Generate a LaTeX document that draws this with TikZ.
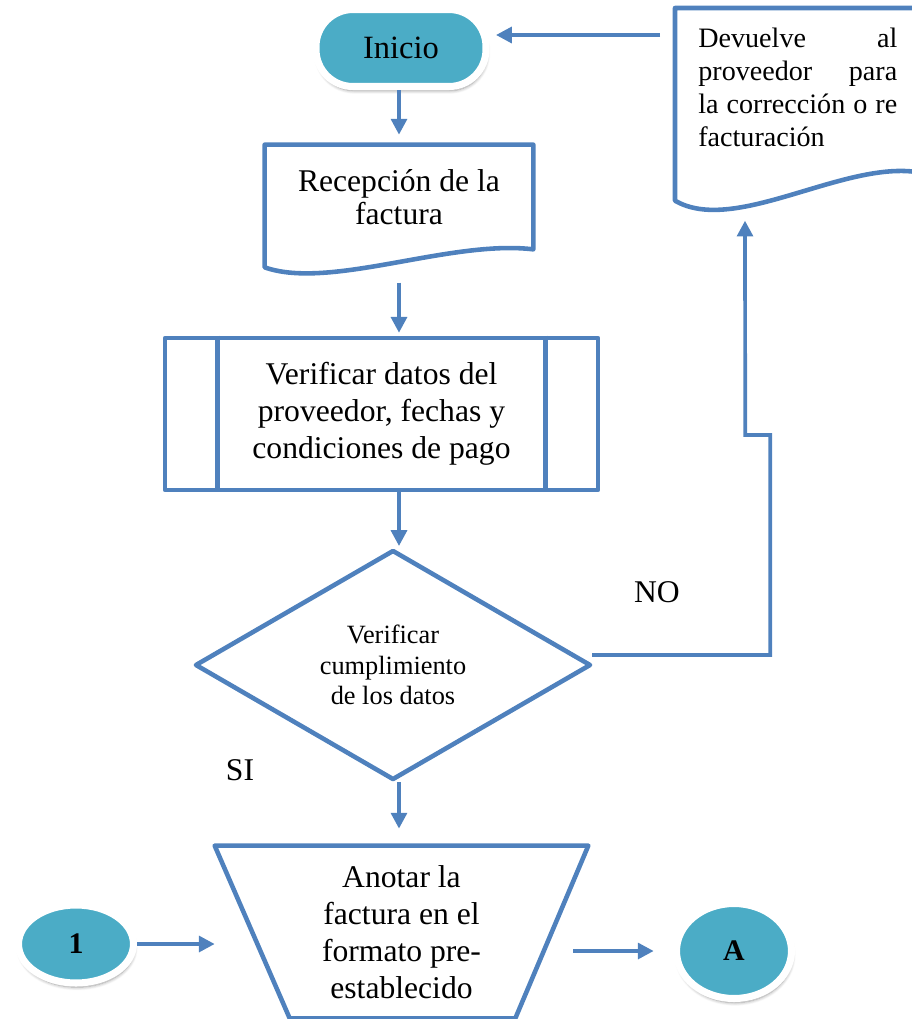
\documentclass[tikz,border=0pt]{standalone}
\usepackage{fontspec}
\setmainfont{Liberation Serif}
\usetikzlibrary{arrows.meta,shapes.geometric,shadows.blur}
\definecolor{azul}{HTML}{4F81BD}
\definecolor{turq}{HTML}{4BACC6}

\begin{document}
\begin{tikzpicture}[x=0.02cm, y=-0.02cm,
    forma/.style={draw=azul, line width=2.6pt, line join=round},
    caja/.style={inner sep=0pt, align=center, font=\fontsize{18}{21}\selectfont},
    terminal/.style={fill=turq, draw=white, line width=4pt, inner sep=0pt,
      blur shadow={shadow xshift=0.6pt, shadow yshift=-2.4pt, shadow blur steps=6, shadow opacity=40}},
    flecha/.style={draw=azul, line width=2.1pt, -{Triangle[length=9pt,width=9pt]}},
    etiqueta/.style={font=\fontsize{18}{21}\selectfont}]
  \useasboundingbox (0,0) rectangle (912,1019);
  \clip (0,0) rectangle (912,1019);

  \node[terminal, rounded corners=0.74cm, minimum width=3.4cm, minimum height=1.54cm,
    font=\fontsize{18.5}{21}\selectfont] at (401,48) (ini) {Inicio};
  \node[caja, font=\fontsize{18}{19}\selectfont, minimum width=5.36cm, minimum height=2.08cm] at (399,197) (rec) {Recepción de la\\factura};
  \node[caja, forma, minimum width=8.66cm, minimum height=3.04cm] at (381.5,414) (ver)
    {Verificar datos del\\proveedor, fechas y\\condiciones de pago};
  \node[forma, diamond, minimum width=7.92cm, minimum height=4.6cm, inner sep=0pt, align=center,
    font=\fontsize{15}{17.5}\selectfont] at (393,665) (dec) {Verificar\\cumplimiento\\de los datos};
  \node[caja, minimum width=7.46cm, minimum height=3.44cm] at (401.5,932) (anota)
    {Anotar la\\factura en el\\formato pre-\\establecido};
  \node[terminal, ellipse, minimum width=2.3cm, minimum height=1.56cm,
    font=\bfseries\fontsize{17}{20}\selectfont] at (76,944) (c1) {1};
  \node[terminal, ellipse, minimum width=2.3cm, minimum height=1.9cm,
    font=\bfseries\fontsize{17}{20}\selectfont] at (734,951) (cA) {A};
  \node[anchor=north west, inner xsep=0.46cm, inner ysep=0.4cm, font=\fontsize{16}{18.7}\selectfont] at (675,8) (dev)
    {\parbox[t][3.04cm][t]{3.98cm}{Devuelve al\linebreak proveedor para\linebreak la corrección o re\linebreak facturación}};
  \node[etiqueta] at (240,770) (si) {SI};
  \node[etiqueta] at (657,592) (no) {NO};

  % documentos
  \draw[forma] (rec.north west) -- (rec.north east) -- (rec.south east)
    .. controls ([shift={(-83,-10)}]rec.south east) and ([shift={(65,41)}]rec.south west) .. ([shift={(0,18)}]rec.south west) -- cycle;
  \draw[forma] (dev.north west) -- (dev.north east) -- ([shift={(0,-28)}]dev.south east)
    .. controls ([shift={(-75,-42)}]dev.south east) and ([shift={(60,35)}]dev.south west) .. (dev.south west) -- cycle;
  % proceso predefinido
  \draw[forma] ([shift={(55,0)}]ver.north west) -- ([shift={(55,0)}]ver.south west);
  \draw[forma] ([shift={(-55,0)}]ver.north east) -- ([shift={(-55,0)}]ver.south east);
  % operacion manual
  \draw[forma] (anota.north west) -- (anota.north east) -- ([shift={(-73,0)}]anota.south east)
    -- ([shift={(75,0)}]anota.south west) -- cycle;

  \draw[flecha, shorten >=5.7pt] (rec.north |- ini.south) -- (rec.north);
  \draw[flecha, shorten <=19pt, shorten >=1.7pt] (rec.south) -- (rec.south |- ver.north);
  \draw[flecha, shorten >=1pt] (rec.south |- ver.south) -- (rec.south |- dec.north);
  \draw[flecha, shorten >=9.7pt] (rec.south |- dec.south) -- (rec.south |- anota.north);
  \draw[flecha] (c1.east) -- (c1.east -| anota.west);
  \draw[flecha, shorten <=-8.5pt, shorten >=11pt] (anota.east |- cA.west) -- (cA.west);
  \coordinate (devsal) at ([shift={(-15,27)}]dev.north west);
  \draw[flecha, shorten >=3.7pt] (devsal) -- (devsal -| ini.east);
  \draw[flecha] ([shift={(-1,-10)}]dec.east) -- ++(178,0) -- ++(0,-220) -- ++(-25,0)
    -- ([shift={(70,20)}]dev.south west);
\end{tikzpicture}
\end{document}
